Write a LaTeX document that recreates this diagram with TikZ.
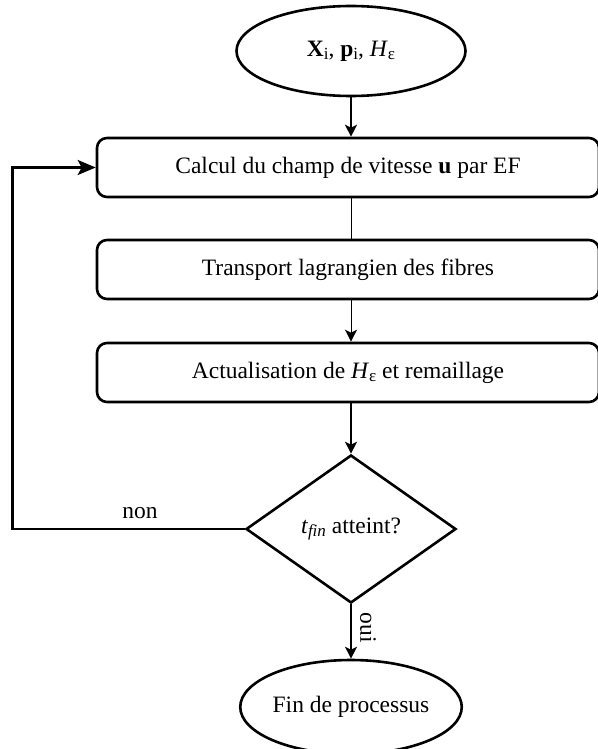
\documentclass[tikz,border=0pt]{standalone}
\usepackage{fontspec}
\setmainfont{Liberation Serif}
\usetikzlibrary{shapes.geometric,arrows.meta}
\newcommand{\sbs}[1]{\raisebox{-3pt}{\fontsize{17}{17}\selectfont #1}}
\begin{document}
\begin{tikzpicture}[x=1pt,y=-1pt,
  every node/.style={font=\fontsize{23.5}{28}\selectfont},
  shapeline/.style={draw=black, line width=2.6pt},
  procbox/.style={shapeline, rounded corners=10pt, minimum width=502pt, minimum height=59pt, inner sep=0pt},
  terminal/.style={shapeline, ellipse, inner sep=0pt},
  decision/.style={shapeline, diamond, minimum width=210pt, minimum height=148pt, inner sep=0pt},
  conn/.style={line width=1.3pt, -{Stealth[length=12pt,width=12pt,inset=3pt]}},
  loopline/.style={line width=2.6pt, -{Stealth[length=18pt,width=15pt,inset=4pt]}},
  lbl/.style={inner sep=0pt}
]
\useasboundingbox (0,0) rectangle (597,749);
\node[terminal, minimum width=229pt, minimum height=90pt] (start) at (351,51)
  {\textbf{X}\sbs{i}, \textbf{p}\sbs{i}, \textit{H}\sbs{ε}};
\node[procbox] (b1) at (348,167.5) {Calcul du champ de vitesse \textbf{u} par EF};
\node[procbox] (b2) at (348,269.5) {Transport lagrangien des fibres};
\node[procbox] (b3) at (348,372.5) {Actualisation de \textit{H}\sbs{ε} et remaillage};
\node[decision] (dec) at (351,529) {\textit{t}\sbs{\textit{fin}} atteint?};
\node[terminal, minimum width=176pt, minimum height=94pt] (fin) at (351,707) {Fin de processus};

\draw[conn, line width=2pt] (start.south) -- (start.south |- b1.north);
\draw[line width=1pt] (b1.south -| start) -- (b2.north -| start);
\draw[conn, line width=1pt] (b2.south -| start) -- (b3.north -| start);
\draw[conn] (b3.south -| start) -- (dec.north);
\draw[conn] (dec.south) -- (fin.north);
\draw[loopline] (dec.west) -- ++(-232,0) |- (b1.west);

\node[lbl] (non) at (140,513) {non};
\node[lbl, rotate=-90] (oui) at (368,628) {oui};
\end{tikzpicture}
\end{document}
